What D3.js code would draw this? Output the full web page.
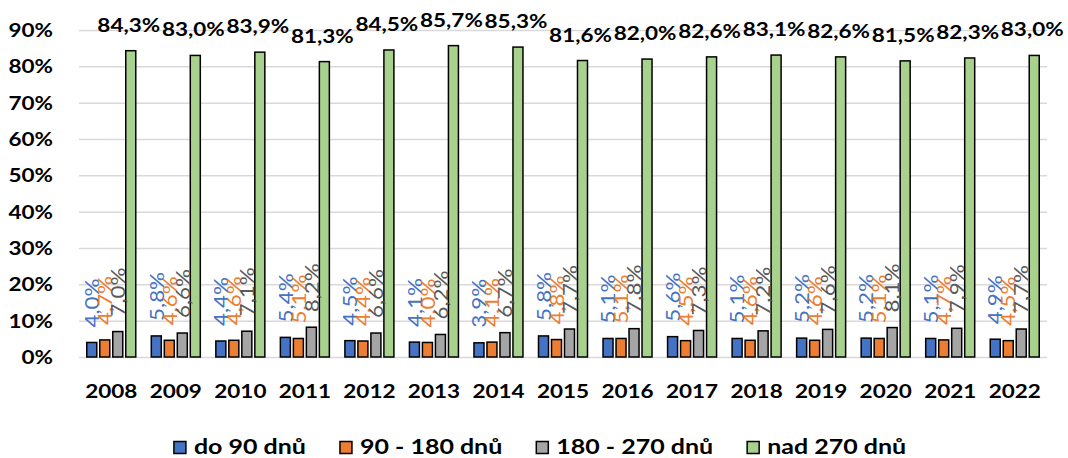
<!DOCTYPE html>
<html>
<head>
<meta charset="utf-8">
<script src="https://cdn.jsdelivr.net/npm/d3@7"></script>
<style>
  body { margin: 0; background: #fff; }
  svg { display: block; font-family: Lato, "Open Sans", sans-serif; }
</style>
</head>
<body>
<svg id="svg" width="1068" height="458"></svg>
<script>
const years = ["2008", "2009", "2010", "2011", "2012", "2013", "2014", "2015",
               "2016", "2017", "2018", "2019", "2020", "2021", "2022"];
const do90 =     [4.0, 5.8, 4.4, 5.4, 4.5, 4.1, 3.9, 5.8, 5.1, 5.6, 5.1, 5.2, 5.2, 5.1, 4.9];
const od90do180 = [4.7, 4.6, 4.6, 5.1, 4.4, 4.0, 4.1, 4.8, 5.1, 4.5, 4.6, 4.6, 5.1, 4.7, 4.5];
const od180do270 = [7.0, 6.6, 7.1, 8.2, 6.6, 6.2, 6.7, 7.7, 7.8, 7.3, 7.2, 7.6, 8.1, 7.9, 7.7];
const nad270 =   [84.3, 83.0, 83.9, 81.3, 84.5, 85.7, 85.3, 81.6, 82.0, 82.6, 83.1, 82.6, 81.5, 82.3, 83.0];
const seriesNames = ["do 90 dnů", "90 - 180 dnů", "180 - 270 dnů", "nad 270 dnů"];
const yTicks = [0, 10, 20, 30, 40, 50, 60, 70, 80, 90];

const fill = ["#4472C4", "#ED7D31", "#A5A5A5", "#A9D18E"];
const labelFill = ["#4472C4", "#ED7D31", "#595959", "#000"];
const sx = 1.25;   // the original chart is stretched sideways

const svg = d3.select("#svg");
const width = 1068, height = 458;
const margin = {top: 30, left: 79, right: 21, bottom: 101};
const innerWidth = width - margin.left - margin.right;
const innerHeight = height - margin.top - margin.bottom;

const allSeries = [do90, od90do180, od180do270, nad270];
const data = years.map((yr, i) => ({
  year: yr,
  values: allSeries.map((s, k) => ({key: k, value: s[i]}))
}));

const x = d3.scaleBand().domain(years).range([0, innerWidth]);
const groupW = 49;
const xi = d3.scaleBand().domain([0, 1, 2, 3]).range([0, groupW]).paddingInner(0.23);
const y = d3.scaleLinear().domain([0, 90]).range([innerHeight, 0]);

const g = svg.append("g").attr("transform", `translate(${margin.left},${margin.top})`);

// y axis + gridlines
const yAxisG = g.append("g")
  .call(d3.axisLeft(y).tickValues(yTicks).tickFormat(d => d + "%")
    .tickSize(-innerWidth).tickPadding(26));
yAxisG.select(".domain").remove();
yAxisG.selectAll(".tick line").attr("stroke", "#d9d9d9").attr("stroke-width", 1.5);
yAxisG.selectAll(".tick text")
  .attr("x", 0).attr("dy", "0.36em")
  .attr("transform", `translate(-26,0) scale(${sx},1)`)
  .attr("font-family", "Lato").attr("font-weight", "bold").attr("font-size", 18)
  .attr("fill", "#000");

// x axis
const xAxisG = g.append("g")
  .attr("transform", `translate(0,${innerHeight})`)
  .call(d3.axisBottom(x).tickSize(0));
xAxisG.select(".domain").remove();
xAxisG.selectAll(".tick text")
  .attr("y", 0).attr("dy", 0)
  .attr("transform", `translate(0,41) scale(${sx},1)`)
  .attr("font-family", "Lato").attr("font-weight", "bold").attr("font-size", 18)
  .attr("fill", "#000");

// bars
const groups = g.selectAll(".yr").data(data).enter().append("g")
  .attr("class", "yr")
  .attr("transform", d => `translate(${x(d.year) + (x.bandwidth() - groupW) / 2},0)`);

groups.selectAll("rect").data(d => d.values).enter().append("rect")
  .attr("x", d => xi(d.key))
  .attr("y", d => y(d.value))
  .attr("width", xi.bandwidth())
  .attr("height", d => innerHeight - y(d.value))
  .attr("fill", d => fill[d.key])
  .attr("stroke", "#000")
  .attr("stroke-width", 1.5);

const fmt = v => v.toFixed(1).replace(".", ",") + "%";

// small rotated labels
groups.selectAll("text.small").data(d => d.values.filter(v => v.key < 3)).enter()
  .append("text").attr("class", "small")
  .attr("transform", d => `translate(${xi(d.key) + xi.bandwidth() / 2},${y(d.value) - 15}) rotate(-90) scale(1.12,1)`)
  .attr("dy", "0.36em")
  .attr("font-size", 20)
  .attr("fill", d => labelFill[d.key])
  .text(d => fmt(d.value));

// big labels above green bars
groups.selectAll("text.big").data(d => d.values.filter(v => v.key === 3)).enter()
  .append("text").attr("class", "big")
  .attr("transform", d => `translate(${xi(d.key) + xi.bandwidth() / 2 - 2},${y(d.value) - 19}) scale(${sx},1)`)
  .attr("text-anchor", "middle")
  .attr("font-size", 18).attr("font-weight", "bold")
  .attr("fill", "#000")
  .text(d => fmt(d.value));

// legend
const legend = svg.append("g");
const items = legend.selectAll("g").data(seriesNames).enter().append("g");
items.append("rect")
  .attr("y", 441.5).attr("width", 12).attr("height", 12)
  .attr("fill", (d, i) => fill[i]).attr("stroke", "#000").attr("stroke-width", 1.5);
items.append("text")
  .attr("transform", `translate(20,454) scale(${sx},1)`)
  .attr("font-size", 20).attr("font-weight", "bold")
  .text(d => d);

let pos = 0;
const offs = [];
items.each(function() {
  offs.push(pos);
  const w = d3.select(this).select("text").node().getComputedTextLength() * sx;
  pos += 20 + w + 34;
});
const total = pos - 34;
const startX = 540 - total / 2;
items.attr("transform", (d, i) => `translate(${startX + offs[i]},0)`);
</script>
</body>
</html>
